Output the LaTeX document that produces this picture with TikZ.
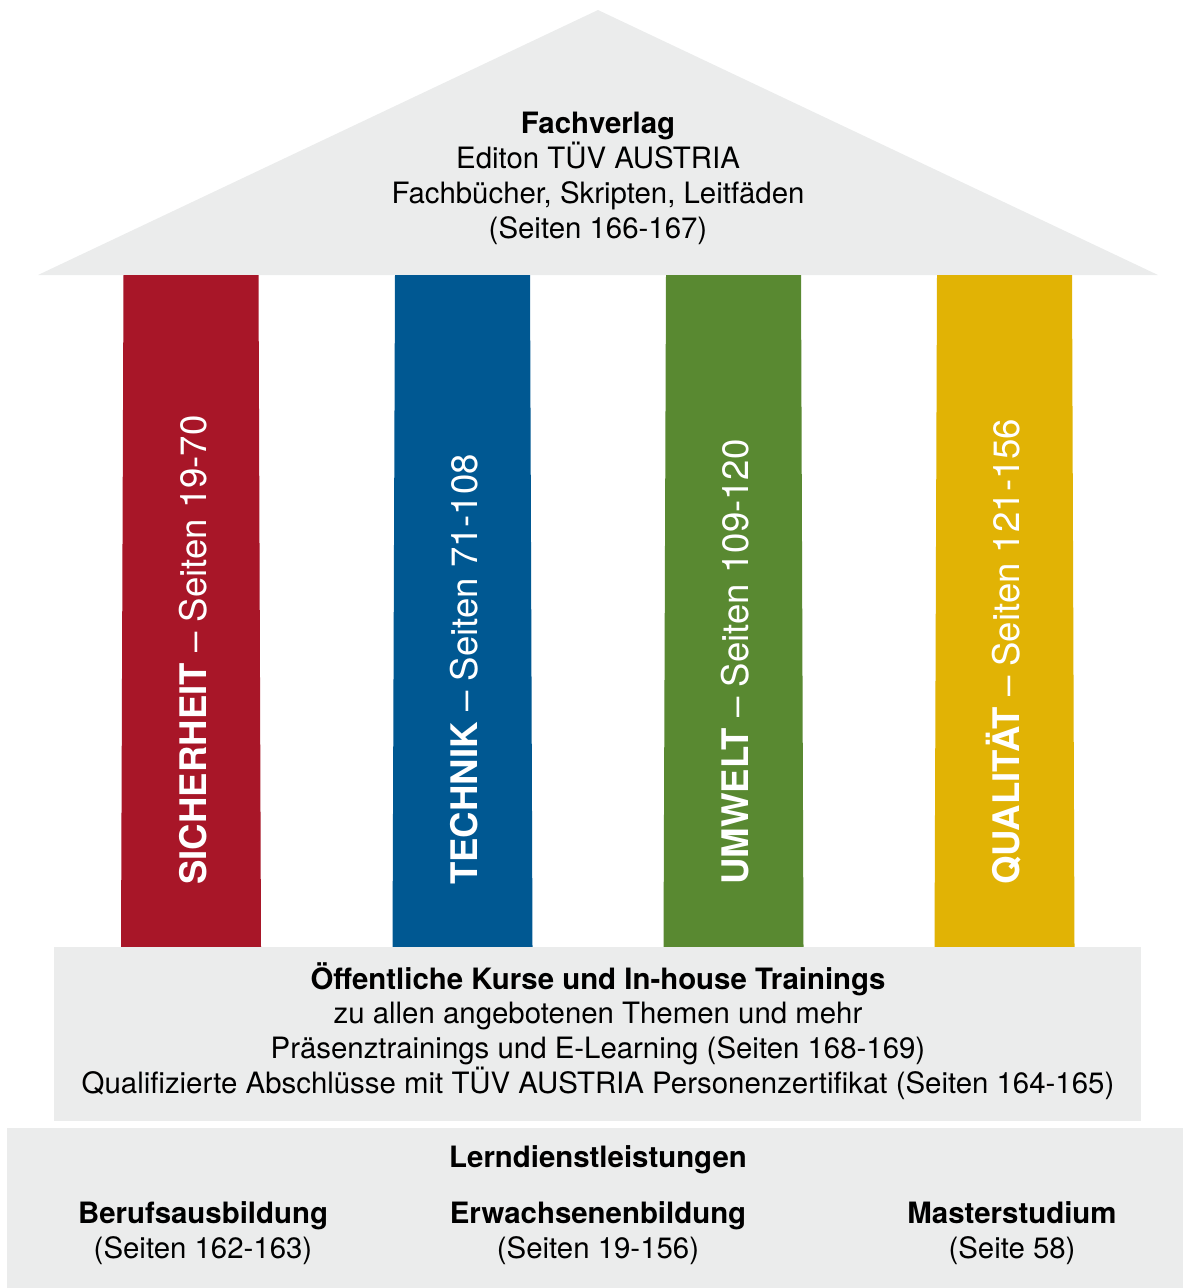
\documentclass[tikz,border=0pt]{standalone}
\usepackage{fontspec}
\setmainfont{TeX Gyre Heros}
\definecolor{roofgrey}{RGB}{235,236,236}
\definecolor{pred}{RGB}{168,22,40}
\definecolor{pblue}{RGB}{0,88,146}
\definecolor{pgreen}{RGB}{89,137,49}
\definecolor{pyellow}{RGB}{225,179,5}
\begin{document}
\begin{tikzpicture}[x=1pt,y=-1pt,
  txt/.style={inner sep=0pt, anchor=base, font=\fontsize{29.4}{35}\selectfont, text=black},
  btxt/.style={txt, font=\fontsize{29.4}{35}\selectfont\bfseries},
  ptxt/.style={inner sep=0pt, anchor=base west, rotate=90, text=white, font=\fontsize{36.6}{40}\selectfont}]
\useasboundingbox (0,0) rectangle (1183,1288);
% roof
\fill[roofgrey] (38,275) -- (598,10) -- (1158,275) -- cycle;
% pillars
\fill[pred] (123.5,275) -- (258.5,275) -- (261,947) -- (121,947) -- cycle;
\fill[pblue] (395,275) -- (530,275) -- (532.5,947) -- (392.5,947) -- cycle;
\fill[pgreen] (666,275) -- (801,275) -- (803.5,947) -- (663.5,947) -- cycle;
\fill[pyellow] (937,275) -- (1072,275) -- (1074.5,947) -- (934.5,947) -- cycle;
% bands
\fill[roofgrey] (54,947) rectangle (1141,1121);
\fill[roofgrey] (7,1128) rectangle (1183,1288);
% roof text
\node[btxt] (r1) at (598,133) {Fachverlag};
\node[txt] (r2) at (598,168) {Editon TÜV AUSTRIA};
\node[txt] (r3) at (598,203) {Fachbücher, Skripten, Leitfäden};
\node[txt] (r4) at (598,238) {(Seiten 166-167)};
% pillar text
\node[ptxt] (p1) at (206,885) {\textbf{SICHERHEIT} – Seiten 19-70};
\node[ptxt] (p2) at (477,885) {\textbf{TECHNIK} – Seiten 71-108};
\node[ptxt] (p3) at (748,885) {\textbf{UMWELT} – Seiten 109-120};
\node[ptxt] (p4) at (1019,885) {\textbf{QUALITÄT} – Seiten 121-156};
% middle band text
\node[btxt] (m1) at (598,989) {Öffentliche Kurse und In-house Trainings};
\node[txt] (m2) at (598,1023) {zu allen angebotenen Themen und mehr};
\node[txt] (m3) at (598,1058) {Präsenztrainings und E-Learning (Seiten 168-169)};
\node[txt] (m4) at (598,1093) {Qualifizierte Abschlüsse mit TÜV AUSTRIA Personenzertifikat (Seiten 164-165)};
% bottom band text
\node[btxt] (b0) at (598,1167) {Lerndienstleistungen};
\node[btxt] (b1) at (203,1223) {Berufsausbildung};
\node[txt] (b2) at (203,1258) {(Seiten 162-163)};
\node[btxt] (b3) at (598,1223) {Erwachsenenbildung};
\node[txt] (b4) at (598,1258) {(Seiten 19-156)};
\node[btxt] (b5) at (1012,1223) {Masterstudium};
\node[txt] (b6) at (1012,1258) {(Seite 58)};
\end{tikzpicture}
\end{document}
